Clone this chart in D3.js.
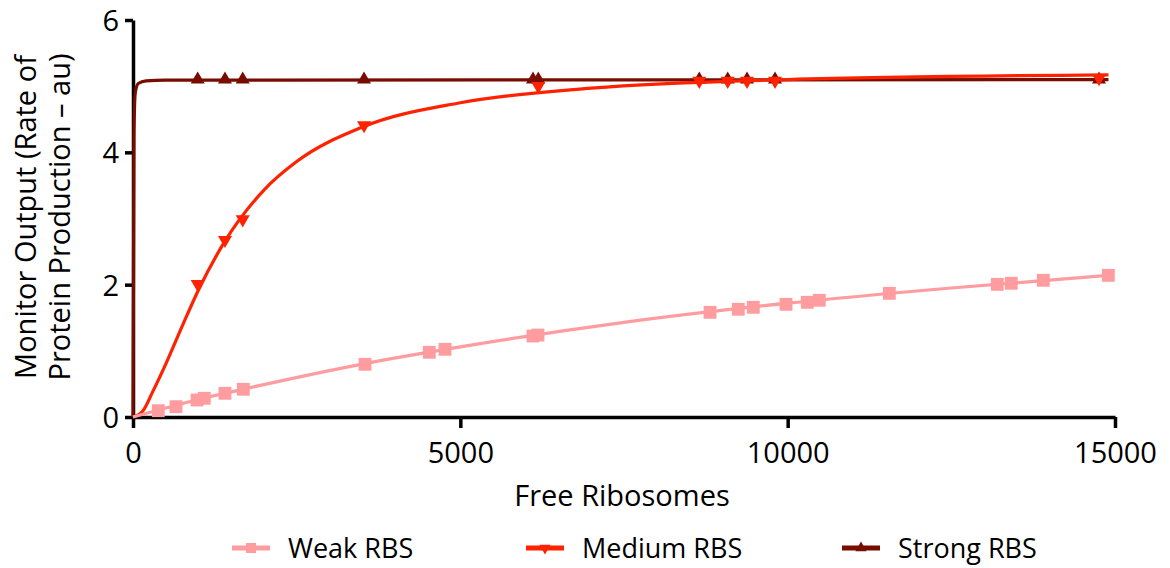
<!DOCTYPE html>
<html>
<head>
<meta charset="utf-8">
<script src="https://cdn.jsdelivr.net/npm/d3@7"></script>
<style>
  html, body { margin: 0; padding: 0; background: #fff; }
  svg { display: block; }
  text { font-family: "Open Sans", "Noto Sans", sans-serif; fill: #000; }
</style>
</head>
<body>
<svg id="chart" width="1170" height="568"></svg>
<script>
// Measured monitor output vs free ribosomes for three RBS strengths
const weakX   = [386, 657, 978, 1089, 1405, 1685, 3544, 4526, 4766, 6110, 6186, 8814, 9246, 9475, 9975, 10300, 10483, 11553, 13202, 13416, 13905, 14898];
const weakY   = [0.095, 0.156, 0.257, 0.283, 0.358, 0.419, 0.796, 0.978, 1.023, 1.224, 1.239, 1.582, 1.628, 1.658, 1.703, 1.733, 1.764, 1.869, 2.005, 2.021, 2.066, 2.141];
const mediumX = [988, 1405, 1676, 3529, 6191, 8650, 9084, 9379, 9807, 14756];
const mediumY = [2.01, 2.675, 2.988, 4.41, 5.00, 5.08, 5.08, 5.08, 5.08, 5.12];
const strongX = [988, 1405, 1676, 3529, 6110, 6191, 8650, 9084, 9379, 9807, 14756];
const strongY = [5.1, 5.1, 5.1, 5.1, 5.1, 5.1, 5.1, 5.1, 5.1, 5.1, 5.1];

// Fitted curves (x, y pairs along each fit)
const weakFitX   = [0, 1000, 2000, 3500, 5000, 7500, 10000, 12500, 14900];
const weakFitY   = [0, 0.265, 0.49, 0.80, 1.06, 1.43, 1.72, 1.95, 2.14];
const mediumFitX = [0, 150, 300, 500, 750, 1000, 1400, 2000, 2500, 3500, 5000, 7000, 10000, 14900];
const mediumFitY = [0, 0.09, 0.38, 0.80, 1.37, 1.92, 2.65, 3.43, 3.86, 4.38, 4.75, 4.97, 5.10, 5.17];
const strongFitX = [0, 15, 35, 80, 200, 500, 14900];
const strongFitY = [0, 4.3, 4.9, 5.04, 5.08, 5.09, 5.1];

const xTicks = [0, 5000, 10000, 15000];
const yTicks = [0, 2, 4, 6];
const seriesNames = ["Weak RBS", "Medium RBS", "Strong RBS"];
const seriesColors = ["#ff9c9f", "#ff2200", "#780c00"];

const svg = d3.select("#chart");
const x = d3.scaleLinear().domain([0, 15000]).range([133, 1115]);
const y = d3.scaleLinear().domain([0, 6]).range([417, 20]);

// Axes
const xAxis = svg.append("g")
  .attr("transform", `translate(0,${y(0)})`)
  .call(d3.axisBottom(x).tickValues(xTicks).tickSize(11).tickSizeOuter(0).tickPadding(14).tickFormat(d3.format("d")));
const yAxis = svg.append("g")
  .attr("transform", `translate(${x(0)},0)`)
  .call(d3.axisLeft(y).tickValues(yTicks).tickSize(8).tickSizeOuter(0).tickPadding(6).tickFormat(d3.format("d")));
[xAxis, yAxis].forEach(g => {
  g.select(".domain").attr("stroke", "#000").attr("stroke-width", 3.5);
  g.selectAll(".tick line").attr("stroke", "#000").attr("stroke-width", 3.5);
  g.selectAll(".tick text").attr("font-size", 29).attr("font-family", "'Open Sans', sans-serif").attr("fill", "#000");
});
yAxis.selectAll(".tick text").attr("dy", "0.36em");

// Axis titles
svg.append("text")
  .attr("x", 622).attr("y", 506)
  .attr("text-anchor", "middle").attr("font-size", 29)
  .text("Free Ribosomes");
const yTitle = svg.append("text")
  .attr("transform", "translate(0,217) rotate(-90)")
  .attr("text-anchor", "middle").attr("font-size", 29);
yTitle.append("tspan").attr("x", 0).attr("y", 36).text("Monitor Output (Rate of");
yTitle.append("tspan").attr("x", 0).attr("y", 70).text("Protein Production \u2013 au)");

// Series
const line = d3.line().x(d => x(d[0])).y(d => y(d[1])).curve(d3.curveMonotoneX);
const zip = (a, b) => a.map((v, i) => [v, b[i]]);

const sq = d3.symbol().type(d3.symbolSquare).size(165)();
const tri = d3.symbol().type(d3.symbolTriangle).size(85)();

function drawSeries(fit, pts, color, marker, rotate) {
  const g = svg.append("g");
  g.append("path").datum(fit)
    .attr("d", line).attr("fill", "none")
    .attr("stroke", color).attr("stroke-width", 3.2);
  g.selectAll("path.pt").data(pts).join("path")
    .attr("class", "pt")
    .attr("d", marker)
    .attr("fill", color)
    .attr("transform", d => `translate(${x(d[0])},${y(d[1])})${rotate ? " rotate(180)" : ""}`);
}

drawSeries(zip(strongFitX, strongFitY), zip(strongX, strongY), seriesColors[2], tri, false);
drawSeries(zip(mediumFitX, mediumFitY), zip(mediumX, mediumY), seriesColors[1], tri, true);
drawSeries(zip(weakFitX, weakFitY), zip(weakX, weakY), seriesColors[0], sq, false);

// Legend
const legendX = [232, 526, 842];
const legendMarkers = [d3.symbol().type(d3.symbolSquare).size(100)(), d3.symbol().type(d3.symbolTriangle).size(55)(), d3.symbol().type(d3.symbolTriangle).size(55)()];
const legendRot = [false, true, false];
const lg = svg.append("g").selectAll("g").data(seriesNames).join("g")
  .attr("transform", (d, i) => `translate(${legendX[i]},548)`);
lg.append("line").attr("x1", 0).attr("x2", 38).attr("y1", 0).attr("y2", 0)
  .attr("stroke", (d, i) => seriesColors[i]).attr("stroke-width", 5);
lg.append("path").attr("d", (d, i) => legendMarkers[i])
  .attr("fill", (d, i) => seriesColors[i])
  .attr("transform", (d, i) => `translate(19,0)${legendRot[i] ? " rotate(180)" : ""}`);
lg.append("text").attr("x", 56).attr("y", 0).attr("dy", "0.36em")
  .attr("font-size", 27).text(d => d);
</script>
</body>
</html>
